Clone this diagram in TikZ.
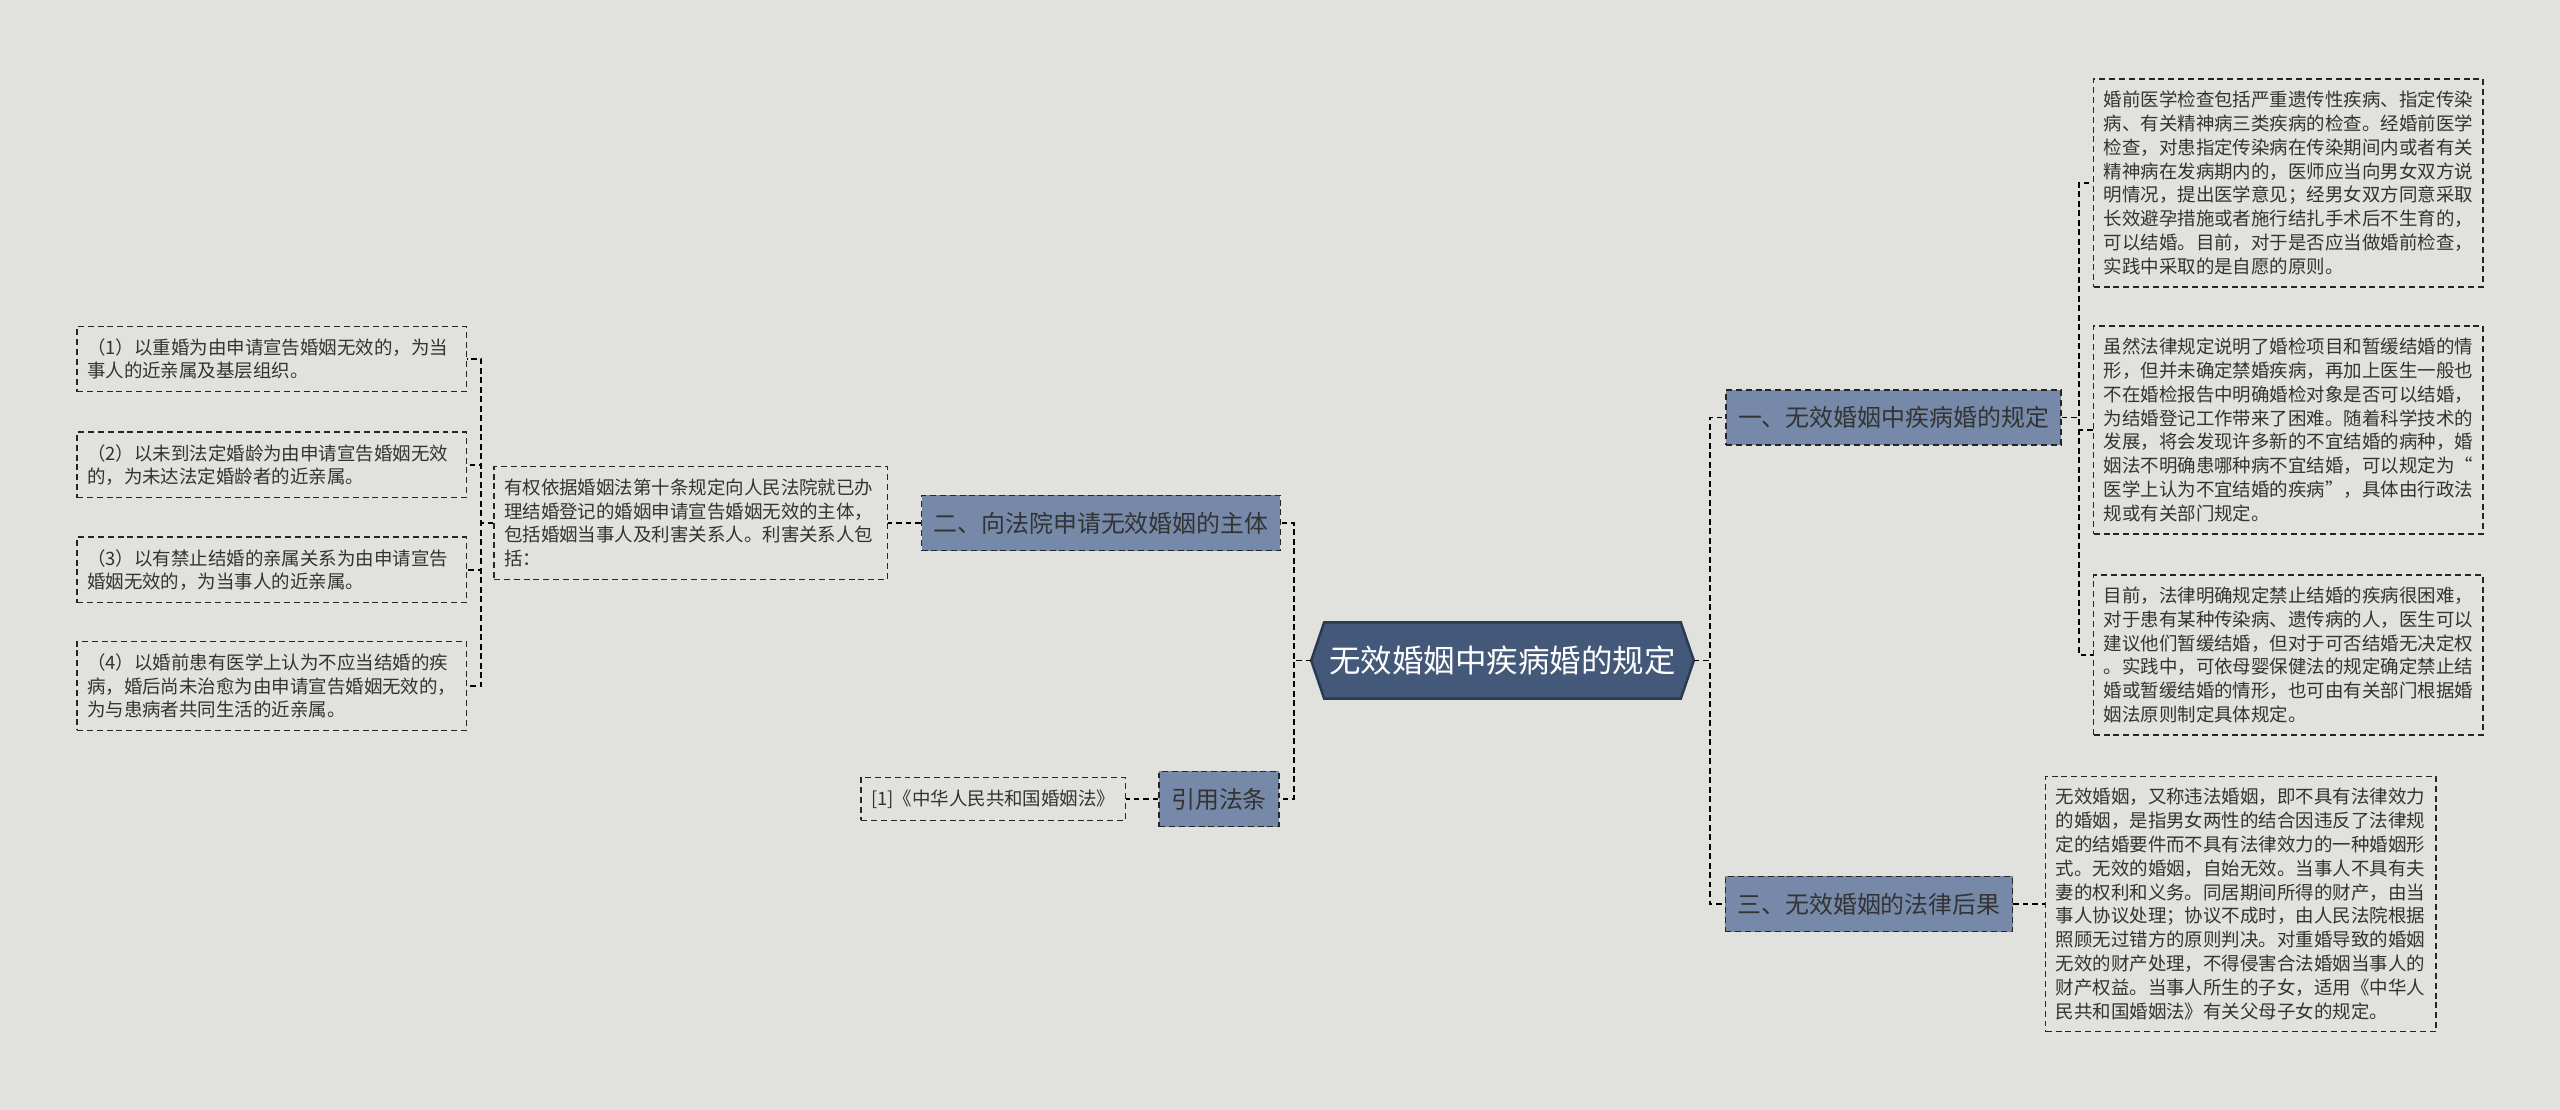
\documentclass[tikz,border=0pt]{standalone}
\usepackage{fontspec}
\setmainfont{Noto Sans CJK SC}
\usetikzlibrary{backgrounds}
\definecolor{bgc}{HTML}{E1E1DD}
\definecolor{rootfill}{HTML}{44597A}
\definecolor{rootline}{HTML}{2B3A52}
\definecolor{branchfill}{HTML}{7689A8}
\definecolor{txt}{HTML}{333333}
\begin{document}
\begin{tikzpicture}[x=0.01cm,y=-0.01cm,
    leaf/.style={draw=black!85,dash pattern=on 1.7pt off 1.1pt,line width=0.4pt,
      align=left,inner xsep=0.1cm,inner ysep=0.12cm,text=txt,
      font=\fontsize{5.25}{6.77}\selectfont},
    branch/.style={draw=black!85,dash pattern=on 1.7pt off 1.1pt,line width=0.45pt,
      fill=branchfill,inner xsep=0.12cm,minimum height=0.55cm,text=txt,
      font=\fontsize{6.8}{8}\selectfont},
    link/.style={draw=black,line width=0.55pt,dash pattern=on 1.6pt off 1.1pt}]
    \node[minimum width=3.81cm,minimum height=0.75cm,inner sep=0,text=white,
      font=\fontsize{8.95}{11}\selectfont] (c) at (1502.5,660.5) {无效婚姻中疾病婚的规定};
    \node[branch] (b1) at (1893.5,417.5) {一、无效婚姻中疾病婚的规定};
    \node[branch] (b2) at (1101,523) {二、向法院申请无效婚姻的主体};
    \node[branch] (b3) at (1869,904) {三、无效婚姻的法律后果};
    \node[branch] (cite) at (1219,799) {引用法条};
    \node[leaf,text width=3.69cm,anchor=west] (r1) at (2093,183) {婚前医学检查包括严重遗传性疾病、指定传染\\病、有关精神病三类疾病的检查。经婚前医学\\检查，对患指定传染病在传染期间内或者有关\\精神病在发病期内的，医师应当向男女双方说\\明情况，提出医学意见；经男女双方同意采取\\长效避孕措施或者施行结扎手术后不生育的，\\可以结婚。目前，对于是否应当做婚前检查，\\实践中采取的是自愿的原则。};
    \node[leaf,text width=3.69cm,anchor=west] (r2) at (2093,430) {虽然法律规定说明了婚检项目和暂缓结婚的情\\形，但并未确定禁婚疾病，再加上医生一般也\\不在婚检报告中明确婚检对象是否可以结婚，\\为结婚登记工作带来了困难。随着科学技术的\\发展，将会发现许多新的不宜结婚的病种，婚\\姻法不明确患哪种病不宜结婚，可以规定为“\\医学上认为不宜结婚的疾病”，具体由行政法\\规或有关部门规定。};
    \node[leaf,text width=3.69cm,anchor=west] (r3) at (2093,655) {目前，法律明确规定禁止结婚的疾病很困难，\\对于患有某种传染病、遗传病的人，医生可以\\建议他们暂缓结婚，但对于可否结婚无决定权\\。实践中，可依母婴保健法的规定确定禁止结\\婚或暂缓结婚的情形，也可由有关部门根据婚\\姻法原则制定具体规定。};
    \node[leaf,text width=3.70cm,anchor=west] (r4) at (2045,904) {无效婚姻，又称违法婚姻，即不具有法律效力\\的婚姻，是指男女两性的结合因违反了法律规\\定的结婚要件而不具有法律效力的一种婚姻形\\式。无效的婚姻，自始无效。当事人不具有夫\\妻的权利和义务。同居期间所得的财产，由当\\事人协议处理；协议不成时，由人民法院根据\\照顾无过错方的原则判决。对重婚导致的婚姻\\无效的财产处理，不得侵害合法婚姻当事人的\\财产权益。当事人所生的子女，适用《中华人\\民共和国婚姻法》有关父母子女的规定。};
    \node[leaf,text width=3.73cm,anchor=east] (mid) at (888,523) {有权依据婚姻法第十条规定向人民法院就已办\\理结婚登记的婚姻申请宣告婚姻无效的主体，\\包括婚姻当事人及利害关系人。利害关系人包\\括：};
    \node[leaf,text width=3.69cm,anchor=east] (l1) at (467,359) {（1）以重婚为由申请宣告婚姻无效的，为当\\事人的近亲属及基层组织。};
    \node[leaf,text width=3.69cm,anchor=east] (l2) at (467,465) {（2）以未到法定婚龄为由申请宣告婚姻无效\\的，为未达法定婚龄者的近亲属。};
    \node[leaf,text width=3.69cm,anchor=east] (l3) at (467,570) {（3）以有禁止结婚的亲属关系为由申请宣告\\婚姻无效的，为当事人的近亲属。};
    \node[leaf,text width=3.69cm,anchor=east] (l4) at (467,686) {（4）以婚前患有医学上认为不应当结婚的疾\\病，婚后尚未治愈为由申请宣告婚姻无效的，\\为与患病者共同生活的近亲属。};
    \node[leaf,anchor=east] (ref) at (1126,799) {[1]《中华人民共和国婚姻法》};
    \begin{scope}[on background layer]
    \fill[bgc] (0,0) rectangle (2560,1110);
    \draw[fill=rootfill,draw=rootline,line width=0.7pt] (c.west) -- ([xshift=0.13cm]c.north west)
      -- ([xshift=-0.13cm]c.north east) -- (c.east) -- ([xshift=-0.13cm]c.south east)
      -- ([xshift=0.13cm]c.south west) -- cycle;
    \end{scope}
    \draw[link] (c.west) -- ++(-17,0) |- (b2.east);
    \draw[link] (c.west) -- ++(-17,0) |- (cite.east);
    \draw[link] (c.east) -- ++(16,0) |- (b1.west);
    \draw[link] (c.east) -- ++(16,0) |- (b3.west);
    \foreach \n in {r1,r2,r3}
      \draw[link] (b1.east) -- ++(17,0) |- (\n.west);
    \draw[link] (b3.east) -- (r4.west);
    \draw[link] (b2.west) -- (mid.east);
    \foreach \n in {l1,l2,l3,l4}
      \draw[link] (mid.west) -- ++(-12,0) |- (\n.east);
    \draw[link] (cite.west) -- (ref.east);
    \useasboundingbox (0,0) rectangle (2560,1110);
\end{tikzpicture}
\end{document}
